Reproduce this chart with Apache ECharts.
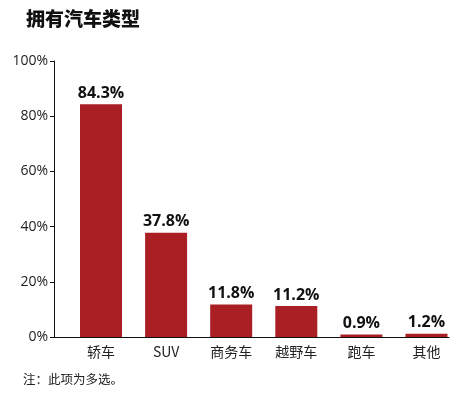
<!DOCTYPE html>
<html>
<head>
<meta charset="utf-8">
<script src="https://cdn.jsdelivr.net/npm/echarts@6/dist/echarts.min.js"></script>
<style>
  html, body { margin: 0; padding: 0; background: #fff; }
  #chart { width: 467px; height: 398px; }
</style>
</head>
<body>
<div id="chart"></div>
<script>
// 拥有汽车类型 柱状图

const categories = ['轿车', 'SUV', '商务车', '越野车', '跑车', '其他']
const shares = [84.3, 37.8, 11.8, 11.2, 0.9, 1.2]
const yTicks = [0, 20, 40, 60, 80, 100]

const chart = echarts.init(document.getElementById('chart'))

const option = {
  backgroundColor: '#fff',
  animation: false,
  title: {
    text: '拥有汽车类型',
    left: 21,
    top: 4,
    textStyle: {
      fontFamily: 'Noto Sans CJK SC',
      fontSize: 19,
      fontWeight: 900,
      color: '#111'
    }
  },
  graphic: [{
    type: 'text',
    left: 23,
    top: 373,
    style: {
      text: '注：此项为多选。',
      font: '12.5px "Noto Sans CJK SC"',
      fill: '#222'
    }
  }],
  grid: {left: 54, right: 18, top: 61, bottom: 61},
  xAxis: {
    type: 'value',
    min: -0.722,
    max: 5.346,
    splitLine: {show: false},
    axisLine: {show: true, onZero: false, lineStyle: {color: '#111', width: 1}},
    axisTick: {show: false},
    axisLabel: {
      customValues: categories.map((c, i) => i),
      formatter: v => categories[Math.round(v)],
      margin: 8,
      fontSize: 14,
      fontFamily: 'Noto Sans CJK SC',
      color: '#222'
    }
  },
  yAxis: {
    type: 'value',
    min: 0,
    max: 100,
    interval: 20,
    splitLine: {show: false},
    axisLine: {show: true, onZero: false, lineStyle: {color: '#111', width: 1}},
    axisTick: {show: true, length: 4, lineStyle: {color: '#111'}},
    axisLabel: {
      formatter: v => yTicks.includes(v) ? v + '%' : '',
      margin: 6,
      fontSize: 14,
      fontFamily: 'Open Sans',
      color: '#222'
    }
  },
  series: [{
    type: 'bar',
    data: shares.map((v, i) => [i, v]),
    barWidth: 42,
    itemStyle: {color: '#A91F24'},
    label: {
      show: true,
      position: 'top',
      distance: 3,
      formatter: p => p.value[1] + '%',
      fontSize: 16,
      fontWeight: 'bold',
      fontFamily: 'Open Sans',
      color: '#111'
    }
  }]
}

option && chart.setOption(option)
</script>
</body>
</html>
